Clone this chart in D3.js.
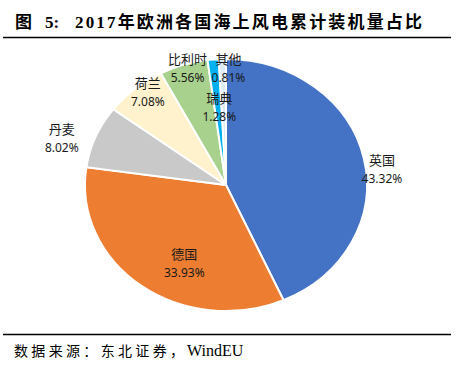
<!DOCTYPE html>
<html>
  <head>
    <meta charset="utf-8">
    <script src="https://d3js.org/d3.v7.min.js"></script>
    <style>
      body { margin: 0; background: #fff; }
      svg { display: block; }
    </style>
  </head>
<body>
  <script type="text/javascript">
    // 数据
    var countries = ["英国", "德国", "丹麦", "荷兰", "比利时", "瑞典", "其他"];
    var shares = [43.32, 33.93, 8.02, 7.08, 5.56, 1.28, 0.81];
    var colors = ["#4472c4", "#ed7d31", "#c9c9c9", "#fff2cc", "#a9d18e", "#00b0f0", "#ddebf7"];

    // 标签位置（布局用）：沿扇区中线的半径比例 + 偏移
    var labelK = [1, 0.75, 1, 1, 1, 0.6, 1];
    var labelOff = [[18, 10], [22, 3], [-34, 1], [13, 3], [4, 3], [1, -3], [6, 9]];

    var W = 468, H = 374;
    var cx = 226, cy = 185, rx = 141, ry = 126;

    var svg = d3.select("body").append("svg")
        .attr("width", W)
        .attr("height", H);

    // 标题
    var title = svg.append("g")
        .style("font-weight", "bold")
        .style("font-size", "17px")
        .style("font-family", "'Liberation Serif', 'Noto Sans CJK SC', serif")
        .attr("fill", "#000");
    title.append("text").attr("x", 15).attr("y", 28).text("图");
    title.append("text").attr("x", 45).attr("y", 28).text("5:");
    title.append("text").attr("x", 75).attr("y", 28)
        .attr("textLength", 347)
        .attr("lengthAdjust", "spacing")
        .text("2017年欧洲各国海上风电累计装机量占比");

    svg.append("line")
        .attr("x1", 3).attr("x2", 451)
        .attr("y1", 37.5).attr("y2", 37.5)
        .attr("stroke", "#000").attr("stroke-width", 1.5);

    svg.append("line")
        .attr("x1", 3).attr("x2", 451)
        .attr("y1", 334.5).attr("y2", 334.5)
        .attr("stroke", "#000").attr("stroke-width", 1.5);

    // 数据来源
    var src = svg.append("g")
        .style("font-family", "'Liberation Serif', 'Noto Sans CJK SC', serif")
        .attr("fill", "#000");
    src.append("text")
        .attr("x", 14).attr("y", 356)
        .attr("textLength", 170)
        .attr("lengthAdjust", "spacing")
        .style("font-size", "14px")
        .text("数据来源：东北证券，");
    src.append("text")
        .attr("x", 187).attr("y", 356)
        .style("font-size", "16px")
        .text("WindEU");

    // 饼图
    var pie = d3.pie().sort(null).value(function(d) { return d; });
    var arcs = pie(shares);
    var arc = d3.arc().innerRadius(0).outerRadius(ry);

    svg.append("g")
        .attr("transform", "translate(" + cx + "," + cy + ") scale(" + (rx / ry) + ",1)")
      .selectAll("path")
      .data(arcs)
      .enter()
      .append("path")
        .attr("d", arc)
        .attr("fill", function(d, i) { return colors[i]; })
        .attr("stroke", "#fff")
        .attr("stroke-width", 2)
        .attr("vector-effect", "non-scaling-stroke");

    // 标签
    var labels = svg.append("g")
        .attr("fill", "#1a1a1a")
        .attr("text-anchor", "middle");

    arcs.forEach(function(d, i) {
      var a = (d.startAngle + d.endAngle) / 2;
      var k = labelK[i];
      var x = cx + rx * k * Math.sin(a) + labelOff[i][0];
      var y = cy - ry * k * Math.cos(a) + labelOff[i][1];
      labels.append("text")
          .attr("x", x).attr("y", y - 4)
          .style("font-size", "13px")
          .style("font-family", "'Noto Sans CJK SC', sans-serif")
          .text(countries[i]);
      labels.append("text")
          .attr("x", x).attr("y", y + 14)
          .style("font-size", "12px")
          .style("font-family", "'Noto Sans', sans-serif")
          .text(d3.format(".2f")(shares[i]) + "%");
    });
  </script>
</body>
</html>
